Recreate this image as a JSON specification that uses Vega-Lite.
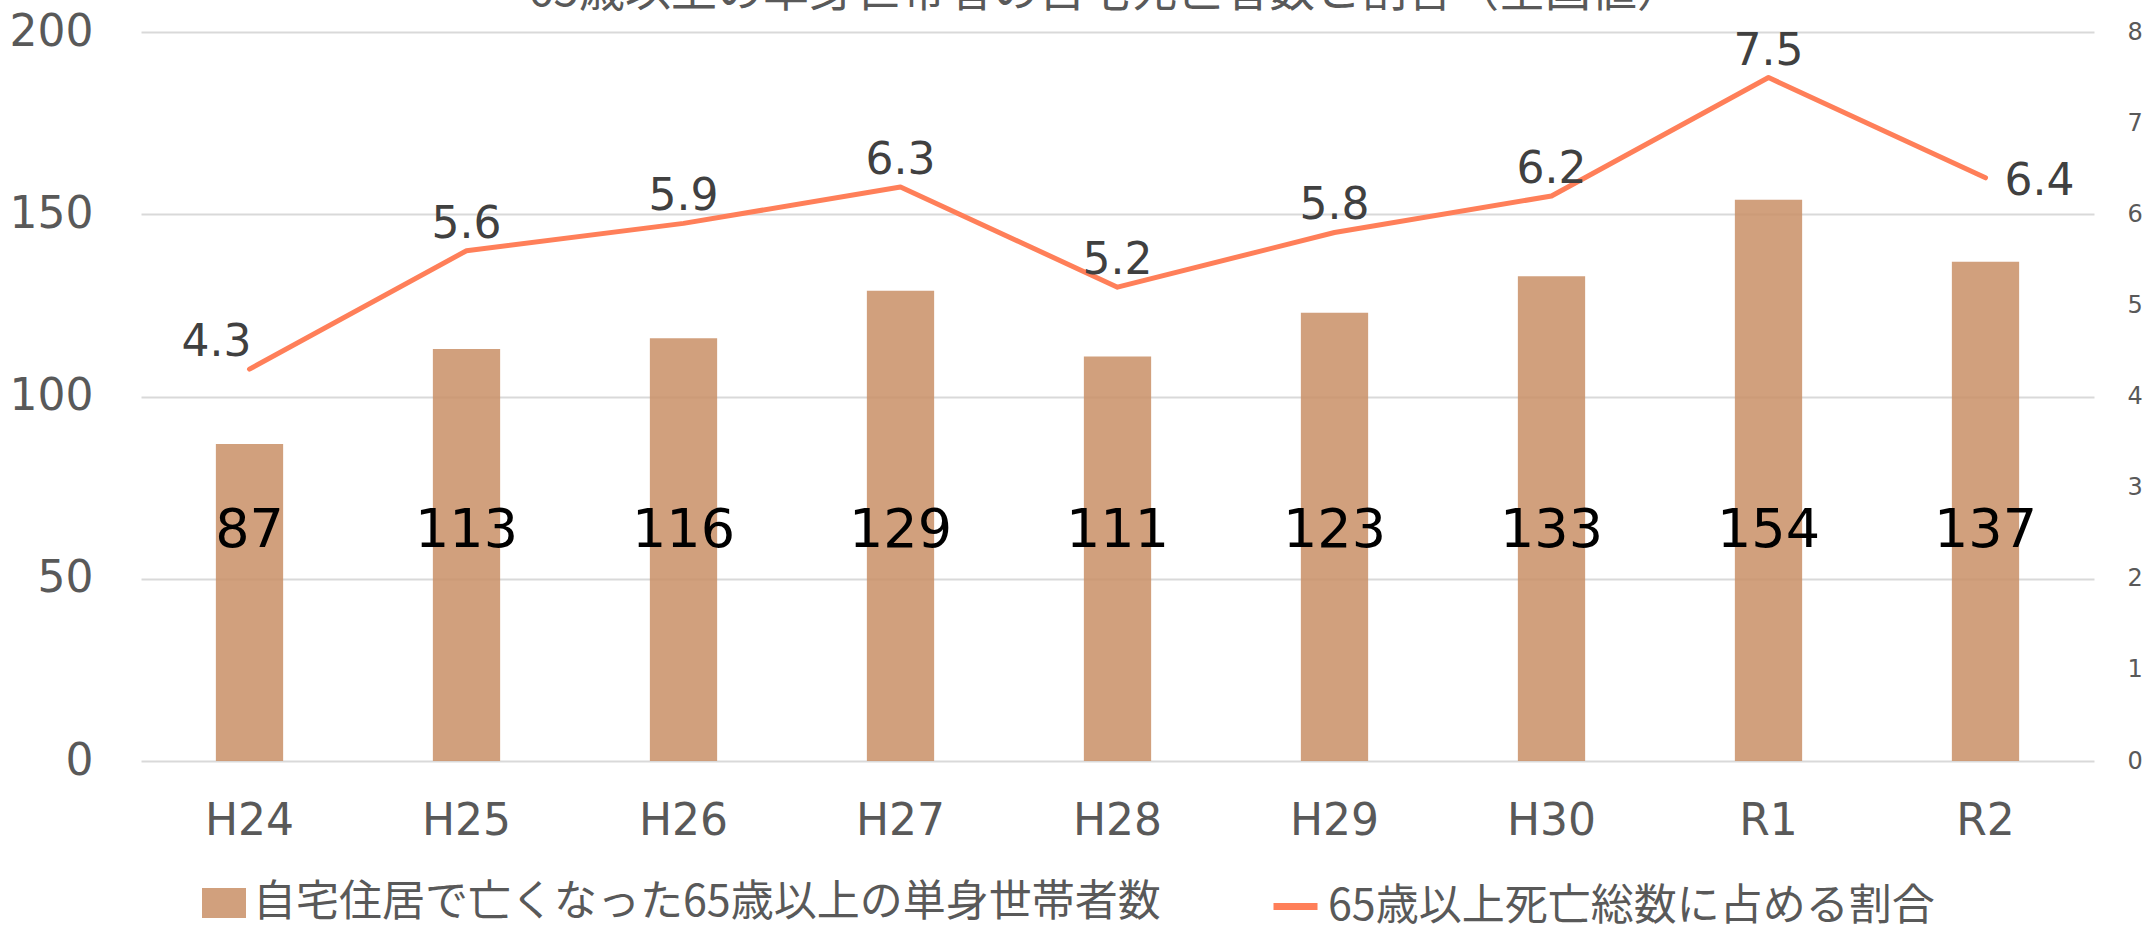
{
  "$schema": "https://vega.github.io/schema/vega-lite/v6.json",
  "width": 1953,
  "height": 729,
  "autosize": {"type": "none"},
  "padding": {"left": 141, "top": 32, "right": 52, "bottom": 166},
  "background": "white",
  "config": {"view": {"stroke": null}, "font": "DejaVu Sans"},
  "data": {
    "values": [
      {"year": "H24", "count": 87, "ratio": 4.3},
      {"year": "H25", "count": 113, "ratio": 5.6},
      {"year": "H26", "count": 116, "ratio": 5.9},
      {"year": "H27", "count": 129, "ratio": 6.3},
      {"year": "H28", "count": 111, "ratio": 5.2},
      {"year": "H29", "count": 123, "ratio": 5.8},
      {"year": "H30", "count": 133, "ratio": 6.2},
      {"year": "R1", "count": 154, "ratio": 7.5},
      {"year": "R2", "count": 137, "ratio": 6.4}
    ]
  },
  "encoding": {
    "x": {
      "field": "year",
      "type": "nominal",
      "sort": null,
      "scale": {"paddingInner": 0.69, "paddingOuter": 0.345},
      "axis": {
        "title": null,
        "labelAngle": 0,
        "domain": false,
        "ticks": false,
        "labelFontSize": 44,
        "labelColor": "#595959",
        "labelPadding": 38,
        "labelFont": "DejaVu Sans"
      }
    }
  },
  "layer": [
    {
      "layer": [
        {
          "mark": {"type": "bar", "fillOpacity": 0.85},
          "encoding": {
            "y": {
              "field": "count",
              "type": "quantitative",
              "scale": {"domain": [0, 200]},
              "axis": {
                "title": null,
                "domain": false,
                "ticks": false,
                "grid": true,
                "gridColor": "#D9D9D9",
                "gridWidth": 2,
                "labelFontSize": 44,
                "labelColor": "#595959",
                "labelPadding": 48,
                "values": [0, 50, 100, 150, 200]
              }
            },
            "fill": {
              "datum": "自宅住居で亡くなった65歳以上の単身世帯者数",
              "type": "nominal",
              "scale": {"range": ["#C98F66"]},
              "legend": {
                "orient": "none",
                "legendX": 61,
                "legendY": 849,
                "title": null,
                "symbolType": "M-1,-0.68H1V0.68H-1Z",
                "symbolSize": 1936,
                "symbolStrokeWidth": 0,
                "symbolOpacity": 0.85,
                "labelFontSize": 43,
                "labelColor": "#595959",
                "labelFont": "Noto Sans CJK JP",
                "labelLimit": 0,
                "labelOffset": 7,
                "padding": 0
              }
            }
          }
        },
        {
          "mark": {"type": "text", "fontSize": 54, "color": "black", "baseline": "middle"},
          "encoding": {
            "y": {"datum": 63, "type": "quantitative"},
            "text": {"field": "count", "type": "quantitative"}
          }
        },
        {
          "data": {"values": [{"heading": "65歳以上の単身世帯者の自宅死亡者数と割合（全国値）"}]},
          "mark": {"type": "text", "fontSize": 46, "color": "#595959", "font": "Noto Sans CJK JP", "baseline": "alphabetic", "align": "center", "dx": -12},
          "encoding": {
            "x": {"datum": "H28"},
            "y": {"datum": 207, "type": "quantitative"},
            "text": {"field": "heading", "type": "nominal"}
          }
        }
      ]
    },
    {
      "layer": [
        {
          "mark": {"type": "line", "strokeWidth": 5, "strokeCap": "round", "strokeJoin": "round"},
          "encoding": {
            "y": {
              "field": "ratio",
              "type": "quantitative",
              "scale": {"domain": [0, 8]},
              "axis": {
                "orient": "right",
                "title": null,
                "domain": false,
                "ticks": false,
                "grid": false,
                "format": "d",
                "labelFontSize": 24,
                "labelColor": "#595959",
                "labelPadding": 33,
                "values": [0, 1, 2, 3, 4, 5, 6, 7, 8]
              }
            },
            "stroke": {
              "datum": "65歳以上死亡総数に占める割合",
              "type": "nominal",
              "scale": {"range": ["#FF7F59"]},
              "legend": {
                "orient": "none",
                "legendX": 1129,
                "legendY": 849,
                "title": null,
                "symbolType": "stroke",
                "symbolSize": 1936,
                "symbolStrokeWidth": 7,
                "labelFontSize": 43,
                "labelColor": "#595959",
                "labelFont": "Noto Sans CJK JP",
                "labelLimit": 0,
                "labelOffset": 7,
                "padding": 0
              }
            }
          }
        },
        {
          "transform": [{"filter": "datum.year != 'H24' && datum.year != 'R2'"}],
          "mark": {"type": "text", "fontSize": 44, "color": "#404040", "baseline": "bottom", "dy": -4},
          "encoding": {
            "y": {"field": "ratio", "type": "quantitative"},
            "text": {"field": "ratio", "type": "quantitative", "format": ".1f"}
          }
        },
        {
          "transform": [{"filter": "datum.year == 'H24'"}],
          "mark": {"type": "text", "fontSize": 44, "color": "#404040", "baseline": "bottom", "dy": -4, "dx": -33},
          "encoding": {
            "y": {"field": "ratio", "type": "quantitative"},
            "text": {"field": "ratio", "type": "quantitative", "format": ".1f"}
          }
        },
        {
          "transform": [{"filter": "datum.year == 'R2'"}],
          "mark": {"type": "text", "fontSize": 44, "color": "#404040", "baseline": "middle", "align": "left", "dy": 4, "dx": 19},
          "encoding": {
            "y": {"field": "ratio", "type": "quantitative"},
            "text": {"field": "ratio", "type": "quantitative", "format": ".1f"}
          }
        }
      ]
    }
  ],
  "resolve": {"scale": {"y": "independent"}}
}
